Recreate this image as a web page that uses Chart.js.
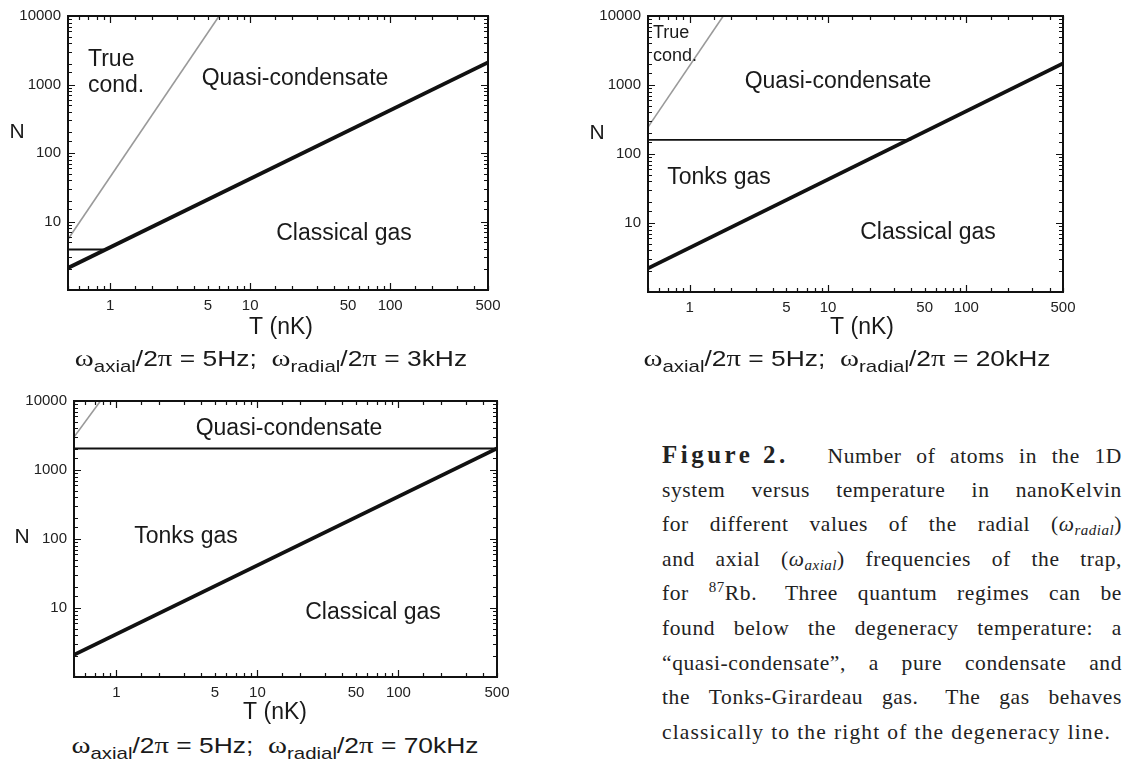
<!DOCTYPE html>
<html>
<head>
<meta charset="utf-8">
<script src="https://cdn.jsdelivr.net/npm/chart.js@4.4.0/dist/chart.umd.min.js"></script>
<style>
  body { margin: 0; background: #fff; width: 1128px; height: 763px; position: relative; overflow: hidden;
         font-family: "Liberation Sans", Arial, sans-serif; color: #1a1a1a; }
  canvas { position: absolute; }
  .sub { position: absolute; font-size: 22px; white-space: nowrap; transform: translate(-50%, -50%) scaleX(1.2); }
  .sub .w { font-family: "Liberation Serif", serif; font-size: 24px; }
  .sub sub { font-size: 17px; vertical-align: -6px; line-height: 0; }
  .cap { position: absolute; left: 662px; top: 438px; width: 460px; font-family: "Liberation Serif", serif;
         font-size: 21.5px; color: #222; }
  .cap .ln { display: flex; justify-content: space-between; align-items: baseline; height: 34.6px; line-height: 34.6px;
             white-space: nowrap; letter-spacing: 0.6px; }
  .cap .ln.last { justify-content: flex-start; letter-spacing: 1.15px; }
  .cap .ln.last span { margin-right: 7px; }
  .cap .wide { margin-right: 8px; }
  .cap b { font-size: 25px; letter-spacing: 3.5px; margin-right: 24px; }
  .cap sub { font-size: 15px; vertical-align: -4px; line-height: 0; letter-spacing: 0.5px; }
  .cap sup { font-size: 15px; vertical-align: 8px; line-height: 0; }
</style>
</head>
<body>
<canvas id="p1" width="545" height="345" style="left:0;top:0"></canvas>
<canvas id="p2" width="565" height="345" style="left:560px;top:0"></canvas>
<canvas id="p3" width="545" height="350" style="left:0;top:380px"></canvas>

<div class="sub" style="left:271px;top:358px"><span class="w">ω</span><sub>axial</sub>/2<span class="w">π</span> = 5Hz;&nbsp; <span class="w">ω</span><sub>radial</sub>/2<span class="w">π</span> = 3kHz</div>
<div class="sub" style="left:847px;top:358px"><span class="w">ω</span><sub>axial</sub>/2<span class="w">π</span> = 5Hz;&nbsp; <span class="w">ω</span><sub>radial</sub>/2<span class="w">π</span> = 20kHz</div>
<div class="sub" style="left:275px;top:745px"><span class="w">ω</span><sub>axial</sub>/2<span class="w">π</span> = 5Hz;&nbsp; <span class="w">ω</span><sub>radial</sub>/2<span class="w">π</span> = 70kHz</div>

<div class="cap" id="cap"></div>

<script>
// --------------------------
// values
// --------------------------
const tLimits = [0.5, 500];      // T axis (nK)
const nLimits = [1, 10000];      // N axis
const xTickLabels = [1, 5, 10, 50, 100, 500];
const yTickLabels = [10, 100, 1000, 10000];

// degeneracy line (black, thick)
const degenT = [0.5, 500];
const degenN1 = [2.1, 2100];
const degenN2 = [2.2, 2050];
const degenN3 = [2.1, 2050];

// true condensate boundary (grey)
const trueT1 = [0.5, 6.0];
const trueN1 = [5.5, 10000];
const trueT2 = [0.5, 1.75];
const trueN2 = [245, 10000];
const trueT3 = [0.5, 0.77];
const trueN3 = [3000, 10000];

// Tonks gas / quasi-condensate boundary
const tonksT1 = [0.5, 0.9];
const tonksN1 = [3.9, 3.9];
const tonksT2 = [0.5, 40];
const tonksN2 = [160, 160];
const tonksT3 = [0.5, 500];
const tonksN3 = [2050, 2050];

// caption, one entry per printed line (double space = sentence gap)
const captionLines = [
  '<b>Figure&nbsp;2.</b> Number of atoms in the 1D',
  'system versus temperature in nanoKelvin',
  'for different values of the radial (<i>ω<sub>radial</sub></i>)',
  'and axial (<i>ω<sub>axial</sub></i>) frequencies of the trap,',
  'for <sup>87</sup>Rb.  Three quantum regimes can be',
  'found below the degeneracy temperature: a',
  '“quasi-condensate”, a pure condensate and',
  'the Tonks-Girardeau gas.  The gas behaves',
  'classically to the right of the degeneracy line.'
];

const FONT = '"Liberation Sans", Arial, sans-serif';

// build the justified caption
const cap = document.getElementById('cap');
captionLines.forEach((line, i) => {
  const div = document.createElement('div');
  div.className = 'ln' + (i === captionLines.length - 1 ? ' last' : '');
  let prev = null;
  line.split(' ').forEach(tok => {
    if (tok === '') { if (prev) prev.classList.add('wide'); return; }
    const s = document.createElement('span');
    s.innerHTML = tok;
    div.appendChild(s);
    prev = s;
  });
  cap.appendChild(div);
});

function pts(t, n) {
  return t.map((v, i) => ({ x: v, y: n[i] }));
}

function near(list, v) {
  return list.some(t => Math.abs(t - v) < 1e-9 * Math.max(1, t));
}

function isDecade(v) {
  const l = Math.log10(v);
  return Math.abs(l - Math.round(l)) < 1e-6;
}

// box, inward ticks on all sides, and the text in the panel
const framePlugin = {
  id: 'frame',
  afterDraw(chart, args, opts) {
    const { ctx, chartArea: a, scales } = chart;
    ctx.save();
    ctx.strokeStyle = '#111';
    ctx.lineWidth = 1.2;
    scales.x.ticks.forEach(t => {
      const px = Math.round(scales.x.getPixelForValue(t.value)) + 0.5;
      const len = isDecade(t.value) ? 7 : 4;
      ctx.beginPath();
      ctx.moveTo(px, a.bottom); ctx.lineTo(px, a.bottom - len);
      ctx.moveTo(px, a.top); ctx.lineTo(px, a.top + len);
      ctx.stroke();
    });
    scales.y.ticks.forEach(t => {
      const py = Math.round(scales.y.getPixelForValue(t.value)) + 0.5;
      const len = isDecade(t.value) ? 7 : 4;
      ctx.beginPath();
      ctx.moveTo(a.left, py); ctx.lineTo(a.left + len, py);
      ctx.moveTo(a.right, py); ctx.lineTo(a.right - len, py);
      ctx.stroke();
    });
    ctx.lineWidth = 2;
    ctx.strokeRect(a.left, a.top, a.right - a.left, a.bottom - a.top);

    ctx.fillStyle = '#1a1a1a';
    ctx.textBaseline = 'middle';
    (opts.texts || []).forEach(s => {
      ctx.font = (s.size || 23) + 'px ' + FONT;
      ctx.textAlign = s.align || 'center';
      ctx.fillText(s.text, s.x, s.y);
    });
    ctx.restore();
  }
};

function makePanel(id, area, lines, texts) {
  const canvas = document.getElementById(id);
  const W = canvas.width, H = canvas.height;
  return new Chart(canvas, {
    type: 'scatter',
    data: {
      datasets: lines.map(l => ({
        data: pts(l.t, l.n),
        showLine: true,
        borderColor: l.color,
        borderWidth: l.width,
        pointRadius: 0,
        fill: false
      }))
    },
    options: {
      responsive: false,
      animation: false,
      devicePixelRatio: 1,
      layout: { padding: { top: area.top, right: W - area.right, left: 0, bottom: 0 } },
      plugins: {
        legend: { display: false },
        tooltip: { enabled: false },
        frame: { texts: texts }
      },
      scales: {
        x: {
          type: 'logarithmic',
          min: tLimits[0], max: tLimits[1],
          grid: { display: false, drawTicks: false },
          border: { display: false },
          ticks: {
            autoSkip: false, maxRotation: 0, padding: 7,
            font: { family: FONT, size: 15 }, color: '#222',
            callback: v => near(xTickLabels, v) ? String(v) : ''
          },
          afterFit: s => { s.height = H - area.bottom; }
        },
        y: {
          type: 'logarithmic',
          min: nLimits[0], max: nLimits[1],
          grid: { display: false, drawTicks: false },
          border: { display: false },
          ticks: {
            autoSkip: false, padding: 7,
            font: { family: FONT, size: 15 }, color: '#222',
            callback: v => near(yTickLabels, v) ? String(v) : ''
          },
          afterFit: s => { s.width = area.left; }
        }
      }
    },
    plugins: [framePlugin]
  });
}

const GREY = '#9a9a9a';
const BLACK = '#111';

makePanel('p1', { left: 68, right: 488, top: 15, bottom: 290 }, [
  { t: trueT1, n: trueN1, color: GREY, width: 1.6 },
  { t: tonksT1, n: tonksN1, color: BLACK, width: 1.8 },
  { t: degenT, n: degenN1, color: BLACK, width: 3.8 }
], [
  { text: 'True', x: 88, y: 60, align: 'left' },
  { text: 'cond.', x: 88, y: 86, align: 'left' },
  { text: 'Quasi-condensate', x: 295, y: 79 },
  { text: 'Classical gas', x: 344, y: 234 },
  { text: 'N', x: 17, y: 132, size: 21 },
  { text: 'T (nK)', x: 281, y: 328, size: 23 }
]);

makePanel('p2', { left: 88, right: 503, top: 16, bottom: 292 }, [
  { t: trueT2, n: trueN2, color: GREY, width: 1.6 },
  { t: tonksT2, n: tonksN2, color: BLACK, width: 1.8 },
  { t: degenT, n: degenN2, color: BLACK, width: 3.8 }
], [
  { text: 'True', x: 93, y: 33, align: 'left', size: 18 },
  { text: 'cond.', x: 93, y: 56, align: 'left', size: 18 },
  { text: 'Quasi-condensate', x: 278, y: 82 },
  { text: 'Tonks gas', x: 159, y: 178 },
  { text: 'Classical gas', x: 368, y: 233 },
  { text: 'N', x: 37, y: 133, size: 21 },
  { text: 'T (nK)', x: 302, y: 328, size: 23 }
]);

makePanel('p3', { left: 74, right: 497, top: 21, bottom: 297 }, [
  { t: trueT3, n: trueN3, color: GREY, width: 1.6 },
  { t: tonksT3, n: tonksN3, color: BLACK, width: 1.8 },
  { t: degenT, n: degenN3, color: BLACK, width: 3.8 }
], [
  { text: 'Quasi-condensate', x: 289, y: 49 },
  { text: 'Tonks gas', x: 186, y: 157 },
  { text: 'Classical gas', x: 373, y: 233 },
  { text: 'N', x: 22, y: 157, size: 21 },
  { text: 'T (nK)', x: 275, y: 333, size: 23 }
]);
</script>
</body>
</html>
